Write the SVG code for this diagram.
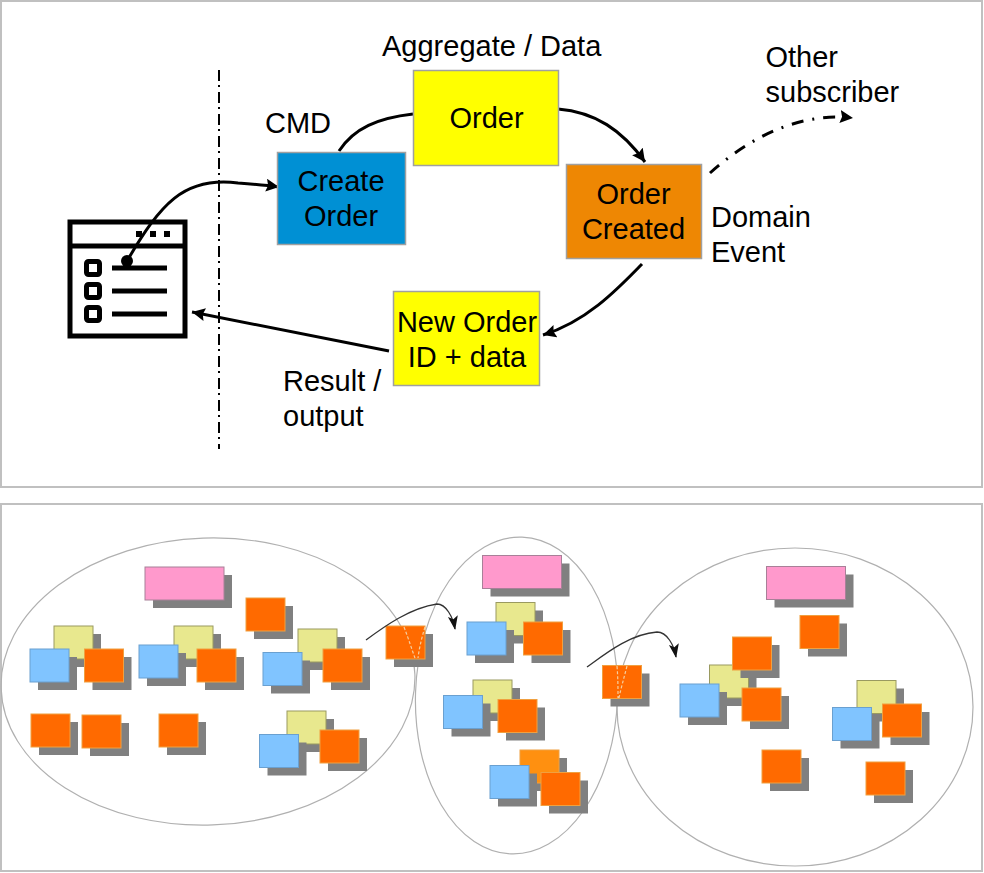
<svg xmlns="http://www.w3.org/2000/svg" xmlns:xlink="http://www.w3.org/1999/xlink" width="984" height="873" viewBox="0 0 984 873">
<style>
text{font-family:"Liberation Sans",Arial,sans-serif;font-size:29px;fill:#000}
.m{text-anchor:middle}
.frame{fill:#fff;stroke:#c0c0c0;stroke-width:2}
.box{stroke:#a0a0a0;stroke-width:1.500}
.c{fill:none;stroke:#000;stroke-width:3}
.t{fill:none;stroke:#333;stroke-width:1.300}
.e{fill:none;stroke:#b0b0b0;stroke-width:1.200}
.d{fill:none;stroke:#f4cfa0;stroke-width:1.200;stroke-dasharray:3 2}
.ico{fill:none;stroke:#000;stroke-width:5}
.s{fill:#808080}
.o{fill:#ff6a00;stroke:#f0a040}
.b{fill:#80c4ff;stroke:#6aa0d0}
.y{fill:#e8e88e;stroke:#9a9a60}
.p{fill:#ff99cc;stroke:#a88098}
.a{fill:#ff9010;stroke:#f0a040}
</style>
<defs>
<marker id="ah" markerUnits="userSpaceOnUse" markerWidth="15" markerHeight="14" refX="13" refY="6.500" orient="auto"><path d="M0 0L13 6.500L0 13L2 6.500Z" fill="#000"/></marker>
<marker id="as" markerUnits="userSpaceOnUse" markerWidth="16" markerHeight="12" refX="13" refY="5" orient="auto"><path d="M0 0L14 5L0 10L3 5Z" fill="#111"/></marker>
<g id="so"><rect class="s" x="8" y="8" width="39" height="33"/><rect class="o" width="39" height="33"/></g>
<g id="sb"><rect class="s" x="8" y="8" width="39" height="33"/><rect class="b" width="39" height="33"/></g>
<g id="sy"><rect class="s" x="8" y="8" width="39" height="33"/><rect class="y" width="39" height="33"/></g>
<g id="sa"><rect class="s" x="8" y="8" width="39" height="33"/><rect class="a" width="39" height="33"/></g>
<g id="sp"><rect class="s" x="8" y="8" width="79" height="33"/><rect class="p" width="79" height="33"/></g>
</defs>
<rect width="984" height="873" fill="#fff"/>
<rect class="frame" x="1" y="1" width="981" height="486"/>
<rect class="frame" x="1" y="504" width="981" height="367"/>

<g id="connectors">
<path d="M219 70V449" fill="none" stroke="#000" stroke-width="2" stroke-dasharray="11 4 2 5"/>
<path class="c" d="M127 261C160 205 183 176 238 183C252 184 265 185 279 187" marker-end="url(#ah)"/>
<path class="c" d="M339 151C354 128 378 118 413 114"/>
<path class="c" d="M558 109C595 112 622 130 645 162" marker-end="url(#ah)"/>
<path class="c" d="M642 264C615 292 585 322 543 335" marker-end="url(#ah)"/>
<path class="c" d="M710 173C750 137 800 112 853 118" stroke-dasharray="12 9 2 9" marker-end="url(#ah)"/>
<path class="c" d="M389 351L192 312" marker-end="url(#ah)"/>
</g>

<g id="ui-icon">
<rect x="70" y="222" width="115" height="114" fill="#f8f8f8" class="ico"/>
<path class="ico" d="M70 246H185M112 268H167M112 291H167M112 314H167"/>
<path d="M136 231h6v6h-6zM150 231h6v6h-6zM164 231h6v6h-6z" fill="#000"/>
<rect class="ico" x="86.500" y="261.500" width="13" height="13" rx="2"/>
<rect class="ico" x="86.500" y="284.500" width="13" height="13" rx="2"/>
<rect class="ico" x="86.500" y="307.500" width="13" height="13" rx="2"/>
<circle cx="127" cy="261" r="6" fill="#000"/>
</g>

<g id="create-order"><rect class="box" x="277.500" y="152.500" width="128" height="92" fill="#0090d4"/><text class="m" x="341" y="190.500">Create</text><text class="m" x="341" y="225.500">Order</text></g>
<g id="order"><rect class="box" x="413.500" y="70.500" width="145" height="95" fill="#ffff00"/><text class="m" x="486.500" y="127.500">Order</text></g>
<g id="order-created"><rect class="box" x="566.500" y="164.500" width="135" height="94" fill="#ee8703"/><text class="m" x="633.500" y="203.500">Order</text><text class="m" x="633.500" y="238.500">Created</text></g>
<g id="new-order"><rect class="box" x="393.500" y="291.500" width="146" height="94" fill="#ffff00"/><text class="m" x="467" y="332">New Order</text><text class="m" x="467" y="367">ID + data</text></g>

<g id="labels">
<text x="382" y="56">Aggregate / Data</text>
<text x="265" y="132.500">CMD</text>
<text x="765.500" y="67">Other</text>
<text x="765.500" y="102">subscriber</text>
<text x="711" y="227">Domain</text>
<text x="711" y="262">Event</text>
<text x="283" y="391">Result /</text>
<text x="283" y="426">output</text>
</g>

<g id="context-1">
<ellipse class="e" cx="208" cy="681.500" rx="207" ry="143.500" transform="rotate(-2 208 681.500)"/>
<use href="#sp" x="145" y="567"/>
<use href="#so" x="246" y="598"/>
<use href="#sy" x="54" y="626"/><use href="#sb" x="30" y="649"/><use href="#so" x="84.500" y="649"/>
<use href="#sy" x="174" y="626"/><use href="#sb" x="139" y="645"/><use href="#so" x="197" y="649"/>
<use href="#sy" x="298" y="629"/><use href="#sb" x="263" y="652.500"/><use href="#so" x="323" y="649"/>
<use href="#so" x="31" y="714"/><use href="#so" x="82" y="715"/><use href="#so" x="159" y="714"/>
<use href="#sy" x="287" y="711"/><use href="#sb" x="259.500" y="734.500"/><use href="#so" x="320" y="730"/>
</g>

<g id="context-2">
<ellipse class="e" cx="516.500" cy="695.500" rx="101" ry="158.500" transform="rotate(2 516.500 695.500)"/>
<use href="#sp" x="482.500" y="555.500"/>
<use href="#sy" x="496" y="602.500"/><use href="#sb" x="467" y="622"/><use href="#so" x="523.500" y="622"/>
<use href="#sy" x="473" y="680"/><use href="#sb" x="443.500" y="695.500"/><use href="#so" x="498" y="699.500"/>
<use href="#sa" x="520" y="750"/><use href="#sb" x="490" y="765.500"/><use href="#so" x="541" y="772.500"/>
</g>

<g id="context-3">
<ellipse class="e" cx="795" cy="707" rx="178" ry="159"/>
<use href="#sp" x="766.500" y="566.500"/>
<use href="#so" x="800" y="615.500"/>
<use href="#sy" x="709.500" y="665"/><use href="#so" x="732.500" y="637"/><use href="#sb" x="680" y="684"/><use href="#so" x="742" y="688"/>
<use href="#sy" x="857" y="680.500"/><use href="#sb" x="832.500" y="707.500"/><use href="#so" x="882.500" y="704"/>
<use href="#so" x="762" y="750"/><use href="#so" x="866" y="762"/>
</g>

<g id="transit-1">
<use href="#so" x="386" y="626"/>
<path class="d" d="M404 627C409 640 412 650 415 658M425 627C421 640 419 650 418 658"/>
</g>
<g id="transit-2">
<use href="#so" x="602.500" y="665.500"/>
<path class="d" d="M617 666C618 678 618 688 618 698M627 666C624 678 621 688 619 698"/>
</g>

<g id="flows">
<path class="t" d="M366 640C385 626 410 608 437 604C446 604 453 617 455 629" marker-end="url(#as)"/>
<path class="t" d="M587 667C605 654 630 634 657 632C667 632 674 645 676 657" marker-end="url(#as)"/>
</g>
</svg>
